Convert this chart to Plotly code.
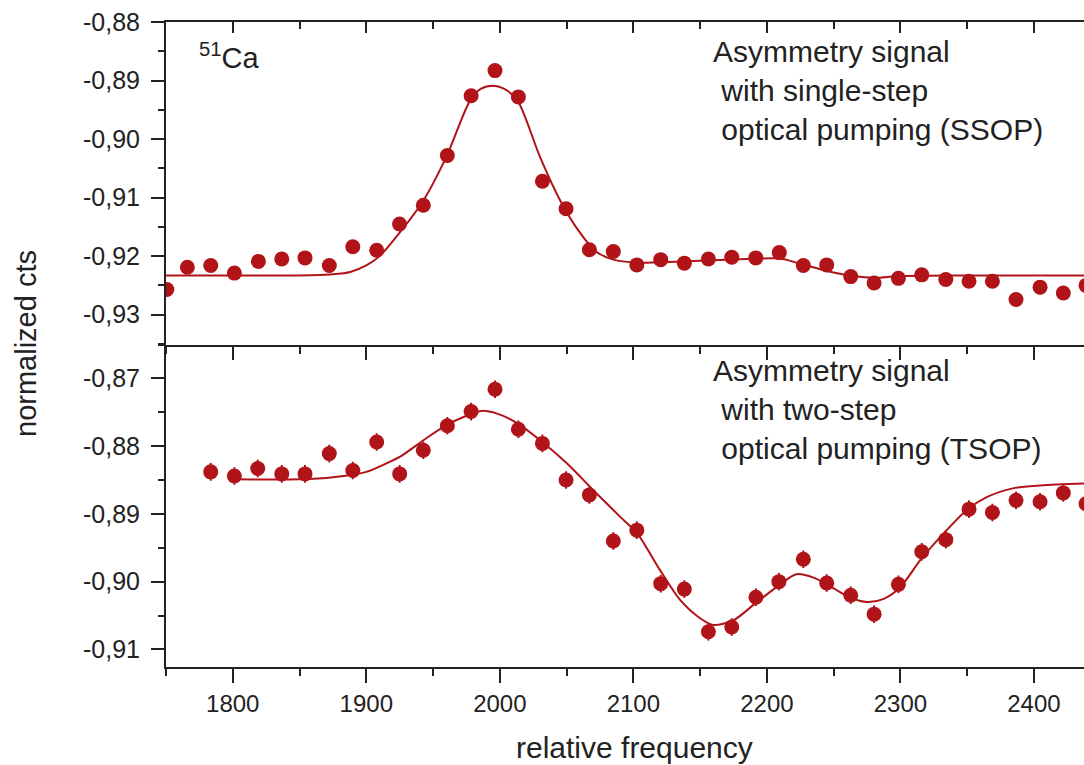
import plotly.graph_objects as go

# ---------------- data ----------------
x_top = [1750.6, 1766.0, 1783.5, 1801.2, 1819.2, 1836.7, 1854.1, 1872.3, 1889.9, 1907.8,
         1924.9, 1942.7, 1960.7, 1978.5, 1996.4, 2013.9, 2031.9, 2049.6, 2067.1, 2085.0,
         2102.6, 2120.5, 2138.2, 2156.2, 2173.7, 2191.7, 2209.3, 2227.3, 2244.8, 2262.8,
         2280.3, 2298.5, 2316.0, 2334.0, 2351.4, 2368.9, 2386.6, 2404.6, 2422.0, 2439.0]
y_top = [-0.9257, -0.9219, -0.9216, -0.9229, -0.9209, -0.9205, -0.9203, -0.9216, -0.9184, -0.9190,
         -0.9145, -0.9113, -0.9028, -0.8926, -0.8883, -0.8928, -0.9072, -0.9119, -0.9189, -0.9192,
         -0.9215, -0.9206, -0.9212, -0.9205, -0.9202, -0.9203, -0.9194, -0.9216, -0.9215, -0.9235,
         -0.9246, -0.9238, -0.9232, -0.9240, -0.9243, -0.9243, -0.9274, -0.9253, -0.9263, -0.9250]

fit_top_x = [1750, 1800, 1850, 1875, 1888, 1900, 1910, 1925, 1943, 1960, 1978, 1986, 1995,
             2003, 2013, 2030, 2045, 2060, 2072, 2085, 2103, 2135, 2185, 2210, 2225, 2250,
             2265, 2280, 2300, 2350, 2440]
fit_top_y = [-0.9233, -0.9233, -0.9233, -0.9231, -0.9227, -0.9216, -0.9200, -0.9160, -0.9104,
             -0.9030, -0.8933, -0.8914, -0.8909, -0.8914, -0.8933, -0.9030, -0.9104, -0.9160,
             -0.9192, -0.9206, -0.9211, -0.9209, -0.9205, -0.9204, -0.9213, -0.9228, -0.9234,
             -0.9237, -0.9234, -0.9233, -0.9233]

x_bot = [1783.5, 1801.2, 1818.7, 1836.7, 1854.1, 1872.3, 1889.9, 1907.8, 1925.0, 1942.7,
         1960.7, 1978.5, 1996.4, 2013.9, 2031.9, 2049.6, 2067.1, 2085.0, 2102.6, 2120.5,
         2138.2, 2156.2, 2173.7, 2191.8, 2209.0, 2227.3, 2244.8, 2262.8, 2280.3, 2298.5,
         2316.0, 2334.0, 2351.4, 2368.9, 2386.6, 2404.6, 2422.0, 2439.0]
y_bot = [-0.8838, -0.8844, -0.8833, -0.8841, -0.8841, -0.8811, -0.8836, -0.8794, -0.8841, -0.8806,
         -0.8770, -0.8749, -0.8716, -0.8775, -0.8796, -0.8850, -0.8872, -0.8940, -0.8924, -0.9003,
         -0.9011, -0.9074, -0.9067, -0.9023, -0.9000, -0.8967, -0.9002, -0.9020, -0.9048, -0.9004,
         -0.8956, -0.8938, -0.8893, -0.8898, -0.8880, -0.8882, -0.8869, -0.8885]
err_bot = [0.0013, 0.0013, 0.0013, 0.0013, 0.0013, 0.0013, 0.0013, 0.0013, 0.0013, 0.0013,
           0.0013, 0.0013, 0.0013, 0.0013, 0.0013, 0.0013, 0.0013, 0.0013, 0.0013, 0.0013,
           0.0013, 0.0013, 0.0013, 0.0013, 0.0013, 0.0013, 0.0013, 0.0013, 0.0013, 0.0013,
           0.0013, 0.0013, 0.0013, 0.0013, 0.0013, 0.0013, 0.0013, 0.0013]

fit_bot_x = [1801, 1850, 1875, 1900, 1910, 1925, 1943, 1960, 1978, 1986, 1998, 2013, 2030, 2050,
             2070, 2090, 2103, 2120, 2135, 2150, 2160, 2175, 2192, 2210, 2222, 2235, 2250, 2262,
             2275, 2288, 2300, 2315, 2330, 2350, 2365, 2385, 2405, 2440]
fit_bot_y = [-0.8849, -0.8849, -0.8846, -0.8838, -0.8830, -0.8816, -0.8791, -0.8769, -0.8753,
             -0.8748, -0.8752, -0.8766, -0.8791, -0.8825, -0.8865, -0.8904, -0.8929, -0.8983,
             -0.9027, -0.9054, -0.9064, -0.9057, -0.9031, -0.9004, -0.8989, -0.8994, -0.9010,
             -0.9023, -0.9030, -0.9025, -0.9008, -0.8968, -0.8934, -0.8894, -0.8875, -0.8862,
             -0.8858, -0.8855]

x_tick_vals = [1800, 1900, 2000, 2100, 2200, 2300, 2400]
y_top_tick_vals = [-0.93, -0.92, -0.91, -0.90, -0.89, -0.88]
y_top_tick_text = ["-0,93", "-0,92", "-0,91", "-0,90", "-0,89", "-0,88"]
y_bot_tick_vals = [-0.91, -0.90, -0.89, -0.88, -0.87]
y_bot_tick_text = ["-0,91", "-0,90", "-0,89", "-0,88", "-0,87"]

label_isotope = "<sup>51</sup>Ca"
label_ssop = "Asymmetry signal<br>\u00a0with single-step<br>\u00a0optical pumping (SSOP)"
label_tsop = "Asymmetry signal<br>\u00a0with two-step<br>\u00a0optical pumping (TSOP)"
x_title = "relative frequency"
y_title = "normalized cts"

# ---------------- style ----------------
W, H = 1084, 765
L, R, T, B = 166, 0, 22, 98
RED = "rgb(176,20,24)"
AX = "#222222"
FONT = "Liberation Sans, Arial, sans-serif"
X_RANGE = [1750, 2437.5]


def px2paper(px):
    return (px - L) / (W - L - R)


def py2paper(py):
    return (H - B - py) / (H - T - B)


fig = go.Figure()

fig.add_trace(go.Scatter(x=fit_top_x, y=fit_top_y, mode="lines", xaxis="x2", yaxis="y2",
                         line=dict(color=RED, width=2, shape="spline", smoothing=0.8),
                         showlegend=False, hoverinfo="skip"))
fig.add_trace(go.Scatter(x=x_top, y=y_top, mode="markers", xaxis="x2", yaxis="y2",
                         marker=dict(color=RED, size=15, line=dict(width=0)),
                         showlegend=False))

fig.add_trace(go.Scatter(x=fit_bot_x, y=fit_bot_y, mode="lines", xaxis="x", yaxis="y",
                         line=dict(color=RED, width=2, shape="spline", smoothing=0.8),
                         showlegend=False, hoverinfo="skip"))
fig.add_trace(go.Scatter(x=x_bot, y=y_bot, mode="markers", xaxis="x", yaxis="y",
                         error_y=dict(type="data", array=err_bot, visible=True,
                                      color=RED, thickness=2, width=0),
                         marker=dict(color=RED, size=15, line=dict(width=0)),
                         showlegend=False))

tickfont = dict(family=FONT, size=25, color=AX)

common_x = dict(range=X_RANGE, showgrid=False, zeroline=False, showline=True,
                linecolor=AX, linewidth=2, tickcolor=AX, tickwidth=2,
                tickmode="array", tickvals=x_tick_vals)

fig.update_layout(
    width=W, height=H,
    margin=dict(l=L, r=R, t=T, b=B, pad=0),
    paper_bgcolor="white", plot_bgcolor="white",
    font=dict(family=FONT, color=AX),
    showlegend=False,
    xaxis=dict(**common_x, anchor="y", domain=[0, 1], side="bottom",
               ticks="outside", ticklen=14, tickfont=dict(family=FONT, size=24, color=AX),
               showticklabels=True,
               minor=dict(ticks="outside", ticklen=7, tickwidth=2, tickcolor=AX,
                          dtick=50, tick0=1750, showgrid=False)),
    xaxis2=dict(**common_x, anchor="y2", domain=[0, 1], side="bottom",
                ticks="outside", ticklen=13, showticklabels=False,
                minor=dict(ticks="outside", ticklen=7, tickwidth=2, tickcolor=AX,
                           dtick=50, tick0=1750, showgrid=False)),
    xaxis3=dict(**common_x, anchor="y2", overlaying="x2", side="top",
                ticks="inside", ticklen=11, showticklabels=False,
                minor=dict(ticks="inside", ticklen=7, tickwidth=2, tickcolor=AX,
                           dtick=50, tick0=1750, showgrid=False)),
    yaxis=dict(domain=[0, 0.5], anchor="x", range=[-0.9126, -0.8650],
               showgrid=False, zeroline=False, showline=True, linecolor=AX, linewidth=2,
               ticks="outside", ticklen=13, tickwidth=2, tickcolor=AX,
               tickmode="array", tickvals=y_bot_tick_vals, ticktext=y_bot_tick_text,
               tickfont=tickfont, ticklabelstandoff=6,
               minor=dict(ticks="outside", ticklen=6, tickwidth=2, tickcolor=AX,
                          dtick=0.005, tick0=-0.87, showgrid=False)),
    yaxis2=dict(domain=[0.5, 1], anchor="x2", range=[-0.9351, -0.8800],
                showgrid=False, zeroline=False, showline=True, linecolor=AX, linewidth=2,
                ticks="outside", ticklen=13, tickwidth=2, tickcolor=AX,
                tickmode="array", tickvals=y_top_tick_vals, ticktext=y_top_tick_text,
                tickfont=tickfont, ticklabelstandoff=6,
                minor=dict(ticks="outside", ticklen=6, tickwidth=2, tickcolor=AX,
                           dtick=0.005, tick0=-0.88, showgrid=False)),
)

# an invisible trace so xaxis3 is drawn
fig.add_trace(go.Scatter(x=[X_RANGE[0]], y=[-0.90], xaxis="x3", yaxis="y2", mode="markers",
                         marker=dict(opacity=0), showlegend=False, hoverinfo="skip"))

ann_font = dict(family=FONT, size=30, color=AX)
fig.add_annotation(xref="paper", yref="paper", x=px2paper(197), y=py2paper(36),
                   xanchor="left", yanchor="top", text=label_isotope, showarrow=False,
                   font=dict(family=FONT, size=29, color=AX), align="left")
fig.add_annotation(xref="paper", yref="paper", x=px2paper(711), y=py2paper(33),
                   xanchor="left", yanchor="top", text=label_ssop, showarrow=False,
                   font=ann_font, align="left")
fig.add_annotation(xref="paper", yref="paper", x=px2paper(711), y=py2paper(352),
                   xanchor="left", yanchor="top", text=label_tsop, showarrow=False,
                   font=ann_font, align="left")
fig.add_annotation(xref="paper", yref="paper", x=px2paper(634.5), y=py2paper(729),
                   xanchor="center", yanchor="top", text=x_title, showarrow=False,
                   font=dict(family=FONT, size=30, color=AX))
fig.add_annotation(xref="paper", yref="paper", x=px2paper(26), y=py2paper(344),
                   xanchor="center", yanchor="middle", text=y_title, showarrow=False,
                   textangle=-90, font=dict(family=FONT, size=29, color=AX))

fig.write_html("out.html",
               config={"displayModeBar": False, "staticPlot": True},
               post_script="document.body.style.margin='0px';document.body.style.overflow='hidden';")
